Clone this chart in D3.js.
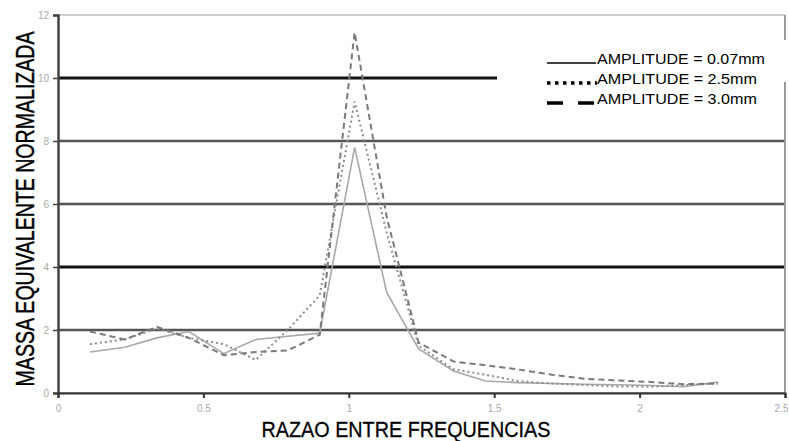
<!DOCTYPE html>
<html>
<head>
<meta charset="utf-8">
<script src="https://cdn.jsdelivr.net/npm/d3@7"></script>
<style>
  html, body { margin: 0; padding: 0; background: #fff; }
  svg { display: block; }
</style>
</head>
<body>
<svg id="chart" width="789" height="441"></svg>
<script>
// Frequency ratio samples (x) and normalised equivalent mass for each amplitude
const ratio  = [0.11, 0.23, 0.34, 0.45, 0.57, 0.68, 0.79, 0.90, 1.02, 1.13, 1.24, 1.36, 1.47, 1.58, 1.70, 1.81, 1.92, 2.04, 2.15, 2.27];
const amp007 = [1.30, 1.45, 1.75, 1.95, 1.25, 1.70, 1.80, 1.90, 7.80, 3.20, 1.40, 0.70, 0.38, 0.33, 0.30, 0.28, 0.26, 0.24, 0.20, 0.35];
const amp25  = [1.55, 1.70, 2.05, 1.75, 1.55, 1.05, 2.00, 3.10, 9.25, 5.10, 1.50, 0.75, 0.58, 0.38, 0.30, 0.25, 0.21, 0.20, 0.25, 0.30];
const amp30  = [1.95, 1.70, 2.10, 1.75, 1.20, 1.30, 1.35, 1.85, 11.45, 5.60, 1.60, 1.00, 0.88, 0.75, 0.58, 0.45, 0.40, 0.35, 0.28, 0.30];

const seriesNames = ["AMPLITUDE = 0.07mm", "AMPLITUDE = 2.5mm", "AMPLITUDE = 3.0mm"];
const xTicks = [0, 0.5, 1, 1.5, 2, 2.5];
const xTickLabels = ["0", "0.5", "1", "1.5", "2", "2.5"];
const yTicks = [0, 2, 4, 6, 8, 10, 12];

const svg = d3.select("#chart");
const plotLeft = 58, plotRight = 785, plotTop = 15, plotBottom = 393;
const FONT = "Liberation Sans, Arial, sans-serif";

const x = d3.scaleLinear().domain([0, 2.5]).range([plotLeft, plotRight]);
const y = d3.scaleLinear().domain([0, 12]).range([plotBottom, plotTop]);

// horizontal gridlines
const gridStyle = {
  0:  { c: "#999", w: 2 },
  2:  { c: "#555", w: 2.5 },
  4:  { c: "#111", w: 3 },
  6:  { c: "#555", w: 2.5 },
  8:  { c: "#555", w: 2.5 },
  10: { c: "#111", w: 3 },
  12: { c: "#ccc", w: 2 }
};
svg.append("g").selectAll("line").data(yTicks).join("line")
  .attr("x1", plotLeft).attr("x2", plotRight)
  .attr("y1", d => y(d)).attr("y2", d => y(d))
  .attr("stroke", d => gridStyle[d].c)
  .attr("stroke-width", d => gridStyle[d].w);

// right border of plot area
svg.append("line")
  .attr("x1", plotRight).attr("x2", plotRight).attr("y1", plotTop).attr("y2", plotBottom)
  .attr("stroke", "#999").attr("stroke-width", 2);

// series lines
const line = d3.line().x((d, i) => x(ratio[i])).y(d => y(d));
const styles = [
  { data: amp007, color: "#a8a8a8", width: 1.6, dash: null },
  { data: amp25,  color: "#8c8c8c", width: 2,   dash: "2,3" },
  { data: amp30,  color: "#7a7a7a", width: 2,   dash: "6,4" }
];
svg.append("g").selectAll("path").data(styles).join("path")
  .attr("d", s => line(s.data))
  .attr("fill", "none")
  .attr("stroke", s => s.color)
  .attr("stroke-width", s => s.width)
  .attr("stroke-dasharray", s => s.dash);

// axes
const yAxis = d3.axisLeft(y).tickValues(yTicks).tickSize(5).tickFormat(d3.format("d"));
const gy = svg.append("g").attr("transform", `translate(${plotLeft},0)`).call(yAxis);
gy.select(".domain").attr("stroke", "#444").attr("stroke-width", 2.5);
gy.selectAll(".tick line").attr("stroke", "#444").attr("stroke-width", 1.5);
gy.selectAll(".tick text").attr("fill", "#aaa")
  .style("font-family", FONT).style("font-size", "10px")
  .attr("x", -9);

const xAxis = d3.axisBottom(x).tickValues(xTicks).tickSize(5)
  .tickFormat((d, i) => xTickLabels[i]);
const gx = svg.append("g").attr("transform", `translate(0,${plotBottom})`).call(xAxis);
gx.select(".domain").attr("stroke", "#333").attr("stroke-width", 2);
gx.selectAll(".tick line").attr("stroke", "#333").attr("stroke-width", 2);
gx.selectAll(".tick text").attr("fill", "#aaa")
  .style("font-family", FONT).style("font-size", "10px")
  .attr("y", 12)
  .attr("dx", d => d === 2.5 ? -4 : 0);

// text squeezed horizontally to a target width
function fitText(g, str, size, width, anchor, weight) {
  const t = g.append("text")
    .attr("text-anchor", anchor)
    .style("font-family", FONT).style("font-size", size + "px")
    .attr("fill", "#000")
    .text(str);
  if (weight) t.attr("stroke", "#000").attr("stroke-width", weight);
  const natural = t.node().getComputedTextLength();
  t.attr("transform", `scale(${width / natural},1)`);
  return t;
}

// axis titles
const yTitle = svg.append("g").attr("transform", "translate(34,209) rotate(-90)");
fitText(yTitle, "MASSA EQUIVALENTE NORMALIZADA", 25, 355, "middle", 0.4);

const xTitle = svg.append("g").attr("transform", "translate(406,437)");
fitText(xTitle, "RAZAO ENTRE FREQUENCIAS", 22, 289, "middle", 0.3);

// legend
const lg = svg.append("g");
lg.append("rect").attr("x", 497).attr("y", 40).attr("width", 292).attr("height", 42).attr("fill", "#fff");
const rowY = [63, 83, 103];
lg.append("line").attr("x1", 547).attr("x2", 596).attr("y1", rowY[0]).attr("y2", rowY[0])
  .attr("stroke", "#000").attr("stroke-width", 1.3);
lg.append("line").attr("x1", 547).attr("x2", 597).attr("y1", rowY[1]).attr("y2", rowY[1])
  .attr("stroke", "#000").attr("stroke-width", 3.5).attr("stroke-dasharray", "3.5,4.5");
lg.append("line").attr("x1", 547).attr("x2", 596).attr("y1", rowY[2]).attr("y2", rowY[2])
  .attr("stroke", "#000").attr("stroke-width", 3.5).attr("stroke-dasharray", "16,15");
seriesNames.forEach((name, i) => {
  const g = lg.append("g").attr("transform", `translate(597,${rowY[i] + 1})`);
  fitText(g, name, 15, i === 0 ? 168 : 160, "start", 0);
});
</script>
</body>
</html>
